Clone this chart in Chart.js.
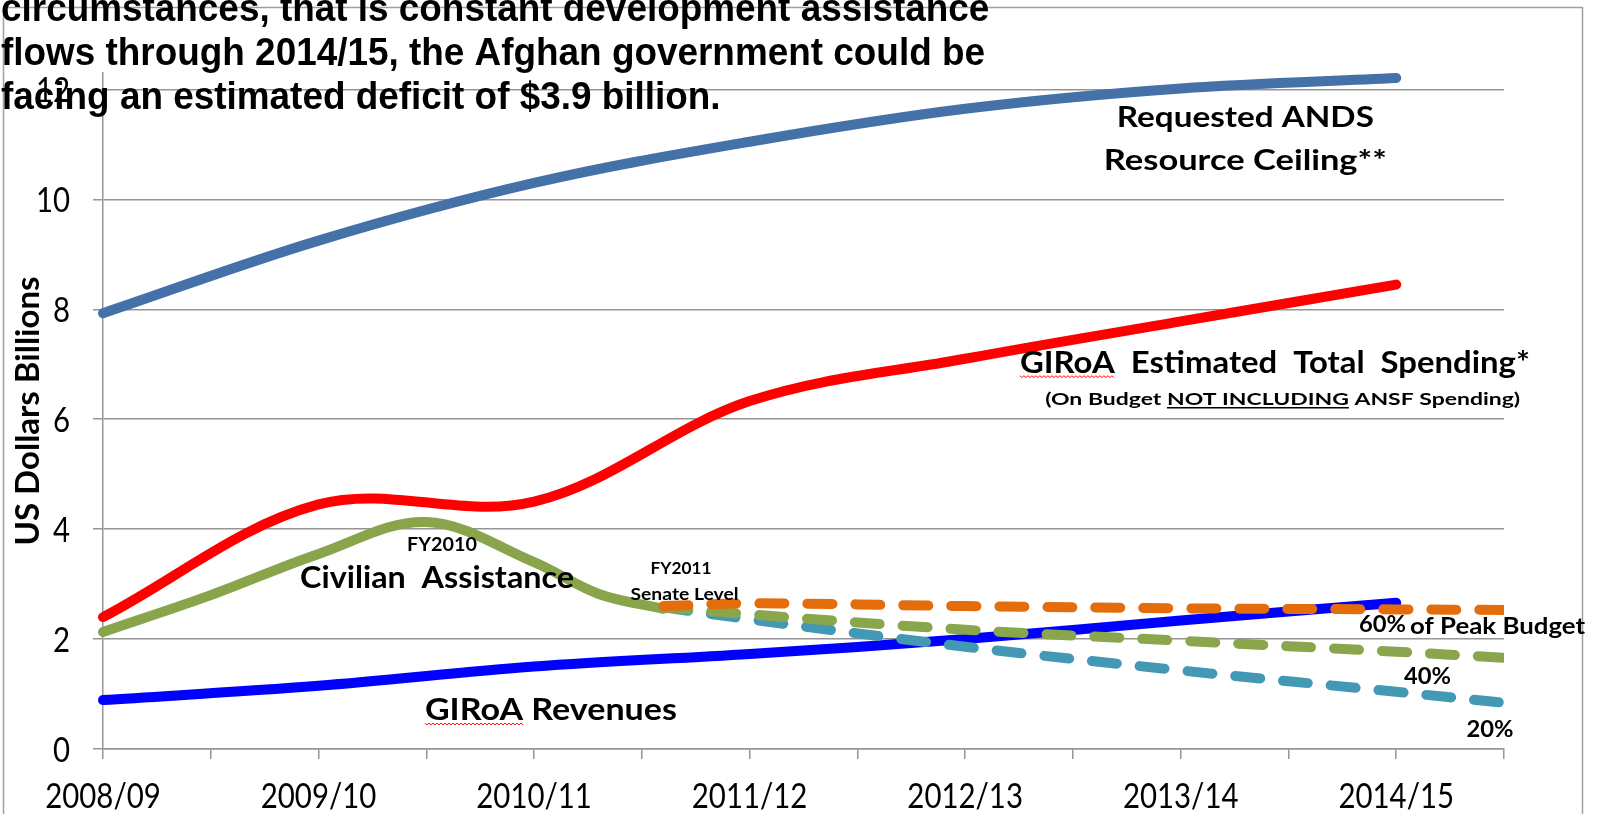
<!DOCTYPE html>
<html lang="en">
<head>
<meta charset="UTF-8">
<title>GIRoA budget outlook</title>
<script src="https://cdn.jsdelivr.net/npm/chart.js@4.4.1/dist/chart.umd.min.js"></script>
<style>
  html, body { margin: 0; padding: 0; background: #fff; }
  #wrap { width: 1602px; height: 814px; }
</style>
</head>
<body>
<div id="wrap"><canvas id="myChart" width="1602" height="814"></canvas></div>
<script>
// x values are years counted from 2008/09
var yearLabels = ['2008/09', '2009/10', '2010/11', '2011/12', '2012/13', '2013/14', '2014/15'];
var yearPos = [0, 1, 2, 3, 4, 5, 6];
var xTicks = [0, 0.5, 1, 1.5, 2, 2.5, 3, 3.5, 4, 4.5, 5, 5.5, 6, 6.5];
var yTicks = [0, 2, 4, 6, 8, 10, 12];

var andsCeiling = [7.93, 9.25, 10.3, 11.05, 11.65, 12.02, 12.21];
var totalSpending = [2.4, 4.45, 4.5, 6.33, 7.1, 7.78, 8.45];
var revenues = [0.89, 1.15, 1.5, 1.73, 2.0, 2.34, 2.66];

var civilianX = [0, 0.5, 1, 1.5, 2, 2.3, 2.6];
var civilianY = [2.13, 2.8, 3.55, 4.13, 3.4, 2.82, 2.55];

// FY2011 Senate level onwards, kept at 60 / 40 / 20 % of peak
var scenarioX = [2.6, 3, 4, 5, 6, 6.5];
var peak60 = [2.6, 2.65, 2.6, 2.56, 2.54, 2.53];
var peak40 = [2.58, 2.45, 2.17, 1.97, 1.77, 1.66];
var peak20 = [2.58, 2.36, 1.86, 1.43, 1.04, 0.84];

var titleLines = [
  'circumstances, that is constant development assistance',
  'flows through 2014/15, the Afghan government could be',
  'facing an estimated deficit of $3.9 billion.'
];

function pts(xs, ys) {
  return xs.map(function (x, i) { return { x: x, y: ys[i] }; });
}

var gridGray = '#959595';
var noteFont = 'Lato, "Open Sans", sans-serif';
var squeeze = 0.84;   // the source picture is a bit narrower than natural type

// text notes placed in data units (x = year, y = baseline value)
// s = font size, w = width in px the text is squeezed to
var notes = [
  { text: 'Requested ANDS', x: 5.30, y: 11.32, s: 28.5, w: 257 },
  { text: 'Resource Ceiling**', x: 5.30, y: 10.535, s: 28.5, w: 283 },
  { text: 'GIRoA  Estimated  Total  Spending*', x: 5.437, y: 6.847, s: 30, w: 510, squiggle: 'GIRoA' },
  { text: 'FY2010', x: 1.573, y: 3.608, s: 18.5, w: 70 },
  { text: 'Civilian  Assistance', x: 1.55, y: 2.924, s: 29.5, w: 274 },
  { text: 'FY2011', x: 2.682, y: 3.184, s: 17.5, w: 61 },
  { text: 'Senate Level', x: 2.698, y: 2.711, s: 17.5, w: 108 },
  { text: '60%', x: 5.936, y: 2.134, s: 23, w: 47 },
  { text: 'of Peak Budget', x: 6.47, y: 2.092, s: 23, w: 175 },
  { text: '40%', x: 6.145, y: 1.183, s: 22.5, w: 47 },
  { text: '20%', x: 6.435, y: 0.224, s: 22.5, w: 47 },
  { text: 'GIRoA Revenues', x: 2.078, y: 0.528, s: 29.5, w: 252, squiggle: 'GIRoA' }
];

function drawSquiggle(ctx, x0, x1, y) {
  ctx.save();
  ctx.strokeStyle = '#ff0000';
  ctx.lineWidth = 1;
  ctx.beginPath();
  var up = true;
  for (var x = x0; x <= x1; x += 2) {
    ctx.lineTo(x, y + (up ? 0 : 2));
    up = !up;
  }
  ctx.stroke();
  ctx.restore();
}

// draws text at (x, by) squeezed sideways by k; font must already be set
function drawNarrow(ctx, text, x, by, k, align) {
  ctx.save();
  ctx.translate(x, by);
  ctx.scale(k, 1);
  ctx.textAlign = align;
  ctx.fillText(text, 0, 0);
  ctx.restore();
}

var overlay = {
  id: 'overlay',
  beforeDraw: function (chart) {
    var ctx = chart.ctx;
    ctx.save();
    ctx.fillStyle = '#fff';
    ctx.fillRect(0, 0, chart.width, chart.height);
    ctx.restore();
  },
  afterDraw: function (chart) {
    var ctx = chart.ctx;
    var xs = chart.scales.x, ys = chart.scales.y;
    ctx.save();

    // outer frame of the chart object
    ctx.strokeStyle = '#a0a0a0';
    ctx.lineWidth = 1.5;
    ctx.beginPath();
    ctx.moveTo(3.5, chart.height);
    ctx.lineTo(3.5, 7.5);
    ctx.lineTo(1582.5, 7.5);
    ctx.lineTo(1582.5, chart.height);
    ctx.stroke();

    ctx.fillStyle = '#000';
    ctx.textBaseline = 'alphabetic';

    // axis tick labels
    ctx.font = '35px Lato, sans-serif';
    yearPos.forEach(function (v, i) {
      drawNarrow(ctx, yearLabels[i], xs.getPixelForValue(v), 808, squeeze, 'center');
    });
    yTicks.forEach(function (v) {
      drawNarrow(ctx, String(v), 70, ys.getPixelForValue(v) + 12.5, squeeze, 'right');
    });

    // notes
    notes.forEach(function (n) {
      var cx = xs.getPixelForValue(n.x);
      var by = ys.getPixelForValue(n.y);
      ctx.font = 'bold ' + n.s + 'px ' + noteFont;
      var k = n.w / ctx.measureText(n.text).width;
      drawNarrow(ctx, n.text, cx, by, k, 'center');
      if (n.squiggle) {
        var sw = ctx.measureText(n.squiggle).width * k;
        drawSquiggle(ctx, cx - n.w / 2, cx - n.w / 2 + sw, by + 3);
      }
    });

    // "(On Budget NOT INCLUDING ANSF Spending)" with the underline
    var parts = ['(On Budget ', 'NOT INCLUDING', ' ANSF Spending)'];
    var full = parts.join('');
    ctx.font = 'bold 17px ' + noteFont;
    var k = 475 / ctx.measureText(full).width;
    var px = xs.getPixelForValue(5.473) - 475 / 2;
    var by = ys.getPixelForValue(6.259);
    parts.forEach(function (p, i) {
      var pw = ctx.measureText(p).width * k;
      drawNarrow(ctx, p, px, by, k, 'left');
      if (i === 1) {
        ctx.fillRect(px, by + 2, pw, 1.5);
      }
      px += pw;
    });

    // slide text that overflows onto the chart
    ctx.font = 'bold 38px "Liberation Sans", Arial, sans-serif';
    var sx = 984 / ctx.measureText(titleLines[1]).width;
    var baselines = [21, 65, 109];
    titleLines.forEach(function (line, i) {
      drawNarrow(ctx, line, 1, baselines[i], sx, 'left');
    });

    ctx.restore();
  }
};

var dashed = { left: false, top: false, right: 0, bottom: false };

var data = {
  datasets: [
    { label: '60% of Peak Budget', data: pts(scenarioX, peak60), borderColor: '#E46C0A', borderDash: [25, 23], clip: dashed },
    { label: '40%', data: pts(scenarioX, peak40), borderColor: '#8AA64C', borderDash: [25, 23], clip: dashed },
    { label: '20%', data: pts(scenarioX, peak20), borderColor: '#4399B3', borderDash: [25, 23], clip: dashed },
    { label: 'Civilian Assistance', data: pts(civilianX, civilianY), borderColor: '#88A54B' },
    { label: 'GIRoA Revenues', data: pts(yearPos, revenues), borderColor: '#0000FF' },
    { label: 'GIRoA Estimated Total Spending', data: pts(yearPos, totalSpending), borderColor: '#FF0000' },
    { label: 'Requested ANDS Resource Ceiling', data: pts(yearPos, andsCeiling), borderColor: '#4571A9' }
  ]
};

var config = {
  type: 'line',
  data: data,
  plugins: [overlay],
  options: {
    responsive: false,
    animation: false,
    clip: false,
    layout: { padding: { top: 73, right: 98, left: 0, bottom: 0 } },
    elements: {
      line: { borderWidth: 10, tension: 0.35, borderCapStyle: 'round', borderJoinStyle: 'round', fill: false },
      point: { radius: 0, hoverRadius: 0 }
    },
    plugins: { legend: { display: false }, tooltip: { enabled: false } },
    scales: {
      x: {
        type: 'linear',
        min: 0,
        max: 6.5,
        afterBuildTicks: function (axis) {
          axis.ticks = xTicks.map(function (v) { return { value: v }; });
        },
        afterFit: function (axis) { axis.height = 65; },
        grid: { drawOnChartArea: false, drawTicks: true, tickLength: 10, color: gridGray, lineWidth: 1.5 },
        border: { color: gridGray, width: 1.5 },
        ticks: { display: false }
      },
      y: {
        min: 0,
        max: 12.3,
        afterBuildTicks: function (axis) {
          axis.ticks = yTicks.map(function (v) { return { value: v }; });
        },
        afterFit: function (axis) { axis.width = 103; },
        grid: { color: gridGray, lineWidth: 1.5, tickLength: 10 },
        border: { color: gridGray, width: 1.5 },
        ticks: { display: false },
        title: {
          display: true,
          text: 'US Dollars Billions',
          color: '#000',
          font: { family: 'Lato', size: 33, weight: 'bold' },
          padding: { top: 9, bottom: 0 }
        }
      }
    }
  }
};

var myChart = new Chart(document.getElementById('myChart'), config);
</script>
</body>
</html>
